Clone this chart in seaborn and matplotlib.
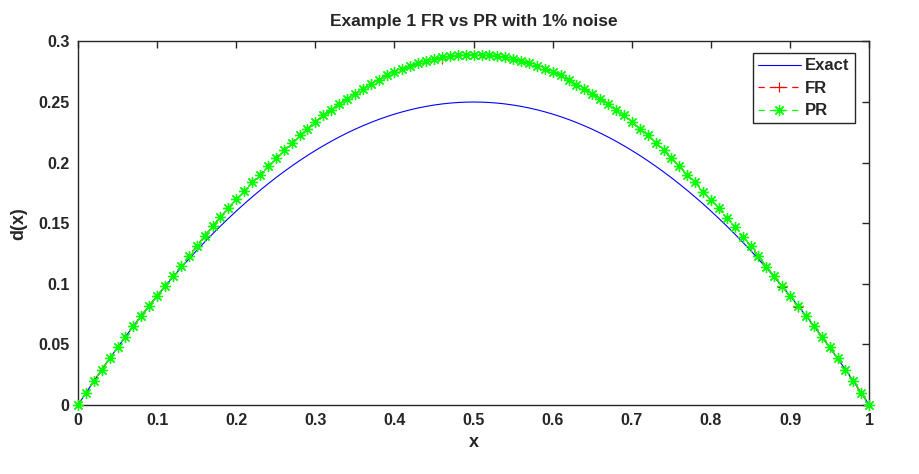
import numpy as np
import pandas as pd
import matplotlib
matplotlib.use("Agg")
import matplotlib.pyplot as plt
from matplotlib.lines import Line2D
import seaborn as sns

# grid x = 0 : 0.01 : 1
x_vals = [round(i * 0.01, 2) for i in range(101)]

# exact solution
exact_vals = [0.0, 0.0099, 0.0196, 0.0291, 0.0384, 0.0475, 0.0564, 0.0651, 0.0736, 0.0819,
              0.09, 0.0979, 0.1056, 0.1131, 0.1204, 0.1275, 0.1344, 0.1411, 0.1476, 0.1539,
              0.16, 0.1659, 0.1716, 0.1771, 0.1824, 0.1875, 0.1924, 0.1971, 0.2016, 0.2059,
              0.21, 0.2139, 0.2176, 0.2211, 0.2244, 0.2275, 0.2304, 0.2331, 0.2356, 0.2379,
              0.24, 0.2419, 0.2436, 0.2451, 0.2464, 0.2475, 0.2484, 0.2491, 0.2496, 0.2499,
              0.25, 0.2499, 0.2496, 0.2491, 0.2484, 0.2475, 0.2464, 0.2451, 0.2436, 0.2419,
              0.24, 0.2379, 0.2356, 0.2331, 0.2304, 0.2275, 0.2244, 0.2211, 0.2176, 0.2139,
              0.21, 0.2059, 0.2016, 0.1971, 0.1924, 0.1875, 0.1824, 0.1771, 0.1716, 0.1659,
              0.16, 0.1539, 0.1476, 0.1411, 0.1344, 0.1275, 0.1204, 0.1131, 0.1056, 0.0979,
              0.09, 0.0819, 0.0736, 0.0651, 0.0564, 0.0475, 0.0384, 0.0291, 0.0196, 0.0099, 0.0]

# PR reconstruction (green stars)
pr_vals = [0.0, 0.0099, 0.0196, 0.0291, 0.0384, 0.0475, 0.0564, 0.0651, 0.0737, 0.0820,
           0.0902, 0.0982, 0.1062, 0.1146, 0.1229, 0.1312, 0.1395, 0.1473, 0.1552, 0.1624,
           0.1699, 0.1762, 0.1837, 0.1900, 0.1970, 0.2039, 0.2105, 0.2163, 0.2224, 0.2279,
           0.2339, 0.2389, 0.2436, 0.2486, 0.2528, 0.2569, 0.2610, 0.2652, 0.2685, 0.2726,
           0.2749, 0.2770, 0.2795, 0.2818, 0.2837, 0.2853, 0.2868, 0.2879, 0.2884, 0.2886,
           0.2886, 0.2886, 0.2884, 0.2879, 0.2868, 0.2853, 0.2837, 0.2818, 0.2795, 0.2770,
           0.2749, 0.2720, 0.2683, 0.2644, 0.2610, 0.2569, 0.2528, 0.2486, 0.2436, 0.2389,
           0.2339, 0.2279, 0.2224, 0.2163, 0.2105, 0.2036, 0.1970, 0.1900, 0.1837, 0.1760,
           0.1693, 0.1622, 0.1547, 0.1470, 0.1390, 0.1312, 0.1229, 0.1141, 0.1063, 0.0980,
           0.0900, 0.0819, 0.0736, 0.0651, 0.0564, 0.0475, 0.0384, 0.0291, 0.0196, 0.0099, 0.0]

# FR reconstruction (red plus) - almost identical to PR, peeks out at a couple of spots
fr_vals = list(pr_vals)
fr_vals[46] = 0.2852
fr_vals[89] = 0.0975
fr_vals[91] = 0.0808

df = pd.DataFrame({"x": x_vals, "Exact": exact_vals, "FR": fr_vals, "PR": pr_vals})

sns.set_style("white")
plt.rcParams["font.family"] = ["Liberation Sans", "DejaVu Sans"]
plt.rcParams["font.weight"] = "bold"

fig = plt.figure(figsize=(9.2, 4.74), dpi=100)
ax = fig.add_axes([0.0848, 0.1456, 0.86, 0.767])

dash = (0, (5, 4))
blue = (0, 0, 1)
red = (1, 0, 0)
green = (0, 1, 0)
exact_style = dict(color=blue, linewidth=0.8)
fr_style = dict(color=red, linewidth=0.9, linestyle=dash, marker="+", markersize=7.5,
                markeredgewidth=0.85, markeredgecolor=red, markerfacecolor=red)
pr_style = dict(color=green, linewidth=0.9, linestyle=dash, marker=(8, 2, 0), markersize=8,
                markeredgewidth=0.9, markeredgecolor=green, markerfacecolor=green)

sns.lineplot(data=df, x="x", y="Exact", ax=ax, legend=False, **exact_style)
sns.lineplot(data=df, x="x", y="FR", ax=ax, legend=False, clip_on=False, **fr_style)
sns.lineplot(data=df, x="x", y="PR", ax=ax, legend=False, clip_on=False, **pr_style)

ax.set_xlim(0, 1)
ax.set_ylim(0, 0.3)
ax.set_xticks([0, 0.1, 0.2, 0.3, 0.4, 0.5, 0.6, 0.7, 0.8, 0.9, 1])
ax.set_xticklabels(["0", "0.1", "0.2", "0.3", "0.4", "0.5", "0.6", "0.7", "0.8", "0.9", "1"])
ax.set_yticks([0, 0.05, 0.1, 0.15, 0.2, 0.25, 0.3])
ax.set_yticklabels(["0", "0.05", "0.1", "0.15", "0.2", "0.25", "0.3"])
ax.tick_params(direction="in", length=5, width=1, top=True, right=True,
               labelsize=11.5, colors="#262626", labelcolor="#262626", pad=6)
for lab in ax.get_xticklabels() + ax.get_yticklabels():
    lab.set_fontweight("bold")
for sp in ax.spines.values():
    sp.set_color("#262626")
    sp.set_linewidth(1.0)
    sp.set_zorder(1)

ax.set_xlabel("x", fontsize=13, fontweight="bold", labelpad=4)
ax.set_ylabel("d(x)", fontsize=13, fontweight="bold", labelpad=8)
ax.set_title("Example 1 FR vs PR with 1% noise", fontsize=12.5, fontweight="bold", pad=11)

handles = [Line2D([], [], **exact_style), Line2D([], [], **fr_style), Line2D([], [], **pr_style)]
leg = ax.legend(handles, ["Exact", "FR", "PR"], loc="upper right", bbox_to_anchor=(0.992, 0.99),
                frameon=True, fancybox=False, edgecolor="#262626", framealpha=1,
                handlelength=2.6, borderpad=0.3, labelspacing=0.45, handletextpad=0.25,
                prop={"weight": "bold", "size": 12})
leg.get_frame().set_linewidth(1.0)

fig.savefig("out.png", dpi=100)
